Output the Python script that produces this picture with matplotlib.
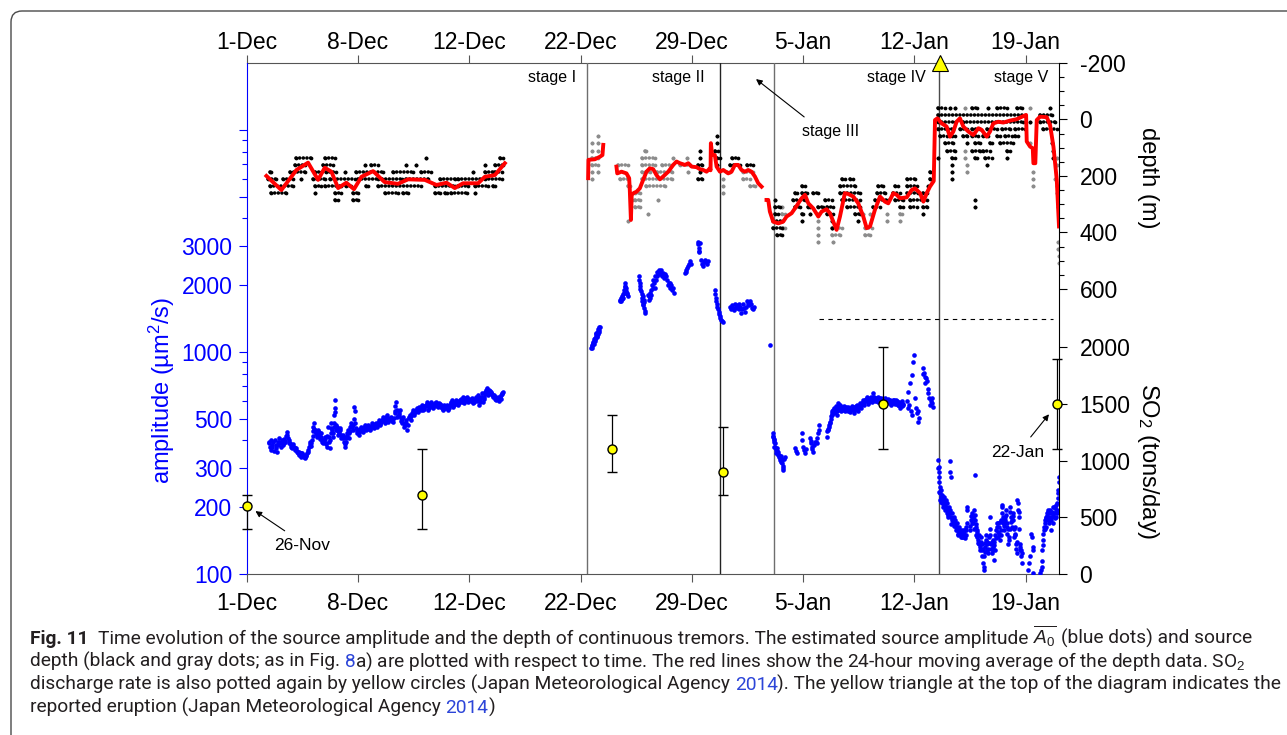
import matplotlib
matplotlib.use('Agg')
import matplotlib.pyplot as plt
from matplotlib import font_manager
from matplotlib.patches import FancyBboxPatch
from matplotlib.transforms import IdentityTransform
from matplotlib.ticker import NullFormatter

plt.rcParams['font.family'] = ['Liberation Sans', 'DejaVu Sans']
plt.rcParams['mathtext.fontset'] = 'custom'
plt.rcParams['mathtext.rm'] = 'Liberation Sans'
plt.rcParams['mathtext.it'] = 'Liberation Sans:italic'

W, H = 1287, 735

# time axis: plot days counted from the 1-Dec tick
tick_pos = [0, 7, 14, 21, 28, 35, 42, 49]
tick_lab = ['1-Dec', '8-Dec', '12-Dec', '22-Dec', '29-Dec', '5-Jan', '12-Jan', '19-Jan']
t_end = 51.1

stage_x = [21.40, 29.79, 33.17, 43.58]
stage_col = ['#6e6e6e', '#222222', '#6e6e6e', '#4a4a4a']
eruption_t = 43.61

# source amplitude (um^2/s), blue dots
amp1 = [(1.40, 395), (1.45, 375), (1.50, 362), (1.55, 401), (1.62, 383), (1.70, 360), (1.76, 401), (1.82, 383),
        (1.90, 356), (1.98, 395), (2.05, 408), (2.10, 388), (2.15, 375), (2.25, 401), (2.32, 388), (2.39, 395),
        (2.48, 420), (2.55, 438), (2.60, 410), (2.65, 388), (2.72, 388), (2.80, 375), (2.88, 380), (2.95, 372),
        (3.02, 362), (3.10, 368), (3.18, 356), (3.23, 350), (3.30, 356), (3.38, 344), (3.44, 338), (3.50, 350),
        (3.58, 338), (3.65, 332), (3.72, 344), (3.80, 350), (3.86, 362), (3.92, 375), (4.00, 395), (4.07, 388),
        (4.14, 420), (4.20, 460), (4.26, 477), (4.30, 445), (4.36, 430), (4.42, 416), (4.49, 445), (4.55, 420),
        (4.62, 405), (4.70, 430), (4.76, 401), (4.82, 388), (4.91, 416), (4.98, 390), (5.05, 375), (5.12, 461),
        (5.16, 416), (5.22, 368), (5.28, 430), (5.33, 477), (5.38, 445), (5.44, 416), (5.50, 480), (5.52, 520),
        (5.54, 560), (5.56, 608), (5.58, 539), (5.62, 445), (5.70, 461), (5.75, 423), (5.82, 440), (5.90, 445),
        (5.96, 408), (6.04, 425), (6.10, 416), (6.17, 375), (6.24, 395), (6.30, 430), (6.38, 445), (6.44, 408),
        (6.52, 460), (6.59, 477), (6.66, 445), (6.74, 500), (6.78, 567), (6.80, 540), (6.84, 477), (6.92, 430),
        (7.01, 445), (7.08, 423), (7.15, 450), (7.22, 461), (7.30, 438), (7.36, 455), (7.43, 469), (7.50, 445),
        (7.58, 460), (7.66, 469), (7.74, 445), (7.82, 460), (7.90, 477), (7.98, 453), (8.05, 470), (8.12, 480),
        (8.20, 461), (8.30, 494), (8.37, 470), (8.45, 485), (8.55, 511), (8.62, 490), (8.68, 477), (8.75, 505),
        (8.82, 520), (8.89, 486), (8.96, 500), (9.05, 511), (9.12, 490), (9.21, 486), (9.30, 530), (9.36, 570),
        (9.40, 597), (9.44, 548), (9.48, 511), (9.55, 530), (9.63, 548), (9.68, 502), (9.75, 480), (9.84, 511),
        (9.90, 461), (9.98, 475), (10.05, 494), (10.10, 445), (10.18, 505), (10.26, 520), (10.32, 494), (10.40, 530),
        (10.47, 548), (10.55, 520), (10.62, 545), (10.70, 560), (10.78, 539), (10.86, 567), (10.95, 550), (11.02, 577),
        (11.10, 548), (11.18, 560), (11.26, 580), (11.34, 597), (11.41, 548), (11.50, 570), (11.58, 597), (11.66, 575),
        (11.73, 558), (11.80, 585), (11.88, 597), (11.96, 570), (12.04, 567), (12.12, 590), (12.20, 575), (12.28, 560),
        (12.36, 548), (12.44, 577), (12.52, 560), (12.60, 577), (12.67, 548), (12.75, 570), (12.84, 590), (12.92, 608),
        (12.99, 567), (13.06, 590), (13.14, 608), (13.22, 585), (13.30, 577), (13.38, 600), (13.46, 615), (13.54, 595),
        (13.61, 629), (13.68, 587), (13.76, 610), (13.84, 629), (13.93, 597), (14.00, 612), (14.08, 600), (14.16, 618),
        (14.24, 587), (14.32, 605), (14.40, 625), (14.48, 600), (14.56, 640), (14.62, 577), (14.70, 610), (14.78, 651),
        (14.87, 597), (14.94, 630), (15.02, 660), (15.10, 686), (15.19, 640), (15.26, 674), (15.34, 660), (15.42, 650),
        (15.50, 629), (15.58, 640), (15.64, 615), (15.71, 608), (15.78, 625), (15.85, 600), (15.92, 629), (15.98, 612),
        (16.05, 650), (16.13, 662),
        (1.42, 388), (1.58, 372), (1.66, 392), (1.86, 370), (1.94, 380), (2.02, 395), (2.20, 392), (2.28, 380),
        (2.36, 405), (2.44, 398), (2.52, 425), (2.68, 400), (2.76, 382), (2.84, 368), (2.92, 385), (3.06, 370),
        (3.14, 360), (3.26, 345), (3.34, 350), (3.42, 352), (3.54, 340), (3.62, 345), (3.69, 335), (3.76, 340),
        (3.84, 355), (3.96, 385), (4.04, 378), (4.10, 400), (4.18, 440), (4.23, 450), (4.33, 430), (4.40, 425),
        (4.46, 430), (4.52, 435), (4.58, 412), (4.66, 415), (4.73, 395), (4.86, 400), (4.94, 405), (5.02, 385),
        (5.08, 420), (5.19, 395), (5.25, 400), (5.30, 455), (5.41, 430), (5.47, 460), (5.60, 470), (5.66, 450),
        (5.73, 440), (5.79, 430), (5.86, 455), (5.93, 425), (6.00, 418), (6.07, 410), (6.14, 395), (6.20, 385),
        (6.27, 410), (6.34, 420), (6.41, 430), (6.48, 440), (6.55, 465), (6.62, 460), (6.70, 470), (6.88, 455),
        (6.96, 440), (7.04, 435), (7.12, 440), (7.19, 448), (7.26, 450), (7.33, 445), (7.40, 458), (7.47, 455),
        (7.54, 450), (7.62, 462), (7.70, 455), (7.78, 452), (7.86, 468), (7.94, 465), (8.02, 460), (8.09, 472),
        (8.16, 468), (8.25, 478), (8.34, 482), (8.41, 475), (8.50, 495), (8.58, 500), (8.72, 492), (8.79, 512),
        (8.86, 500), (8.93, 495), (9.00, 505), (9.09, 500), (9.16, 495), (9.25, 505), (9.33, 545), (9.52, 515),
        (9.59, 520), (9.72, 490), (9.80, 500), (9.87, 480), (9.94, 468), (10.02, 480), (10.14, 470), (10.22, 512),
        (10.29, 508), (10.36, 515), (10.44, 535), (10.51, 532), (10.58, 535), (10.66, 550), (10.74, 550), (10.82, 555),
        (10.90, 560), (10.98, 565), (11.06, 562), (11.14, 555), (11.22, 570), (11.30, 575), (11.38, 572), (11.46, 560),
        (11.54, 585), (11.62, 585), (11.70, 565), (11.76, 575), (11.84, 590), (11.92, 582), (12.00, 578), (12.08, 580),
        (12.16, 582), (12.24, 568), (12.32, 555), (12.40, 562), (12.48, 568), (12.56, 570), (12.64, 562), (12.71, 560),
        (12.80, 580), (12.88, 598), (12.96, 585), (13.02, 578), (13.10, 598), (13.18, 596), (13.26, 590), (13.34, 588),
        (13.42, 606), (13.50, 605), (13.58, 610), (13.65, 608), (13.72, 600), (13.80, 618), (13.88, 612), (13.96, 610),
        (14.04, 605), (14.12, 610), (14.20, 602), (14.28, 595), (14.36, 615), (14.44, 612), (14.52, 620), (14.59, 610),
        (14.66, 595), (14.74, 630), (14.82, 625), (14.90, 615), (14.98, 645), (15.06, 672), (15.14, 662), (15.22, 655),
        (15.30, 668), (15.38, 655), (15.46, 640), (15.54, 635), (15.61, 628), (15.68, 612), (15.75, 615), (15.82, 612),
        (15.88, 615), (15.95, 620), (16.02, 638), (16.09, 655)]

amp2 = [(21.68, 1040), (21.72, 1060), (21.76, 1085), (21.80, 1100), (21.84, 1120), (21.88, 1140), (21.92, 1160),
        (21.96, 1180), (22.00, 1200), (22.04, 1215), (22.08, 1240), (22.12, 1265), (22.16, 1250), (22.20, 1300),
        (22.06, 1180), (21.90, 1120), (21.70, 1070), (21.74, 1045), (21.78, 1110), (21.82, 1085), (21.86, 1150),
        (21.94, 1140), (21.98, 1215), (22.02, 1170), (22.10, 1200), (22.14, 1230), (22.18, 1290),
        (23.47, 1700), (23.52, 1750), (23.56, 1690), (23.60, 1780), (23.66, 1820), (23.70, 1760), (23.74, 1900),
        (23.78, 1960), (23.82, 2040), (23.86, 1880), (23.90, 1820), (23.94, 1850), (24.00, 1780),
        (23.50, 1720), (23.63, 1740), (23.76, 1850), (23.80, 1990), (23.84, 1950),
        (24.68, 2200), (24.70, 2120), (24.72, 2050), (24.74, 1980), (24.76, 1930), (24.80, 1880), (24.84, 1820),
        (24.88, 1760), (24.92, 1700), (24.96, 1640), (25.00, 1580), (25.04, 1530), (25.08, 1500), (25.02, 1680),
        (24.90, 1790), (24.86, 1700), (24.94, 1620), (24.98, 1720),
        (25.26, 1800), (25.30, 1720), (25.36, 1760), (25.40, 1850), (25.46, 1900), (25.50, 2000), (25.56, 2100),
        (25.60, 2050), (25.66, 1950), (25.44, 1800), (25.33, 1780), (25.53, 1950),
        (25.70, 2200), (25.76, 2100), (25.82, 2300), (25.88, 2250), (25.94, 2350), (26.00, 2250), (26.06, 2330),
        (26.12, 2200), (26.18, 2280), (26.24, 2150), (26.30, 2250), (26.36, 2200), (26.42, 2100), (26.48, 2000),
        (26.54, 2050), (26.60, 1950), (26.66, 2050), (26.72, 2000), (26.78, 1900), (26.84, 1950), (26.90, 1850),
        (25.79, 2200), (25.91, 2320), (26.03, 2300), (26.15, 2240), (26.27, 2200),
        (27.57, 2260), (27.62, 2300), (27.66, 2350), (27.70, 2400), (27.76, 2450), (27.82, 2500), (27.88, 2560),
        (27.94, 2480),
        (28.40, 3140), (28.42, 3050), (28.44, 2950), (28.46, 2850), (28.48, 2830), (28.52, 3100),
        (28.56, 2600), (28.62, 2500), (28.68, 2450), (28.74, 2550), (28.80, 2580), (28.86, 2600), (28.92, 2550),
        (28.98, 2500), (29.04, 2560),
        (29.45, 1900), (29.47, 1820), (29.50, 1760), (29.53, 1700), (29.56, 1640), (29.60, 1600), (29.64, 1560),
        (29.68, 1520), (29.72, 1480), (29.76, 1460), (29.80, 1430), (29.86, 1400), (29.92, 1380), (29.98, 1370),
        (30.40, 1600), (30.46, 1560), (30.52, 1620), (30.58, 1580), (30.64, 1540), (30.70, 1650), (30.76, 1600),
        (30.82, 1580), (30.88, 1620), (30.94, 1560), (31.00, 1640), (31.06, 1600), (31.12, 1500), (31.18, 1560),
        (31.24, 1640), (31.30, 1580), (31.36, 1520), (31.42, 1600), (31.48, 1700), (31.54, 1650), (31.60, 1620),
        (31.66, 1700), (31.72, 1640), (31.78, 1580), (31.84, 1560), (31.90, 1600)]

amp3 = [(32.92, 1075), (33.08, 430), (33.12, 416), (33.17, 401), (33.20, 375), (33.20, 395), (33.23, 388),
        (33.28, 362), (33.30, 350), (33.33, 368), (33.38, 350), (33.44, 356), (33.48, 338), (33.50, 345),
        (33.54, 338), (33.58, 326), (33.62, 340), (33.65, 326), (33.68, 315), (33.71, 305), (33.75, 294),
        (33.80, 330), (33.86, 338),
        (34.49, 368), (34.59, 352), (34.91, 430), (34.95, 400), (35.01, 375), (35.12, 350), (35.20, 365),
        (35.43, 408), (35.50, 390), (35.54, 375), (35.64, 356), (35.75, 395), (35.85, 388), (35.96, 430),
        (35.98, 445), (36.02, 470),
        (36.48, 416), (36.53, 440), (36.59, 445), (36.64, 470), (36.69, 486), (36.74, 500), (36.80, 529),
        (36.85, 540), (36.90, 548), (36.96, 530), (37.01, 539), (37.06, 560), (37.11, 550), (37.16, 520),
        (37.22, 587), (37.27, 560), (37.32, 567), (37.38, 545),
        (37.43, 560), (37.53, 548), (37.58, 570), (37.64, 545), (37.74, 558), (37.80, 540), (37.85, 565),
        (37.95, 539), (38.00, 555), (38.06, 570), (38.16, 548), (38.22, 530), (38.28, 560), (38.37, 558),
        (38.42, 575), (38.48, 545), (38.58, 577), (38.64, 560), (38.70, 590), (38.79, 608), (38.84, 580),
        (38.90, 600), (39.00, 629), (39.05, 600), (39.10, 585), (39.21, 608), (39.26, 625), (39.32, 595),
        (39.42, 651), (39.48, 610), (39.54, 620), (39.63, 600), (39.70, 630), (39.76, 610), (39.84, 600),
        (39.90, 620), (39.96, 595), (40.05, 610), (40.12, 590), (40.18, 620), (40.26, 600), (40.32, 615),
        (40.38, 590), (40.47, 605), (40.54, 580), (40.60, 600), (40.68, 590), (40.74, 610), (40.80, 585),
        (40.89, 600), (40.96, 575), (41.02, 595), (41.10, 560), (41.18, 590), (41.24, 600), (41.31, 575),
        (41.52, 600), (41.57, 560), (41.62, 663), (41.68, 580), (41.73, 723), (41.78, 540), (41.83, 788),
        (41.88, 520), (41.94, 904), (41.98, 970), (42.04, 620), (42.10, 560), (42.15, 529), (42.20, 545),
        (42.25, 486), (42.31, 502),
        (42.52, 844), (42.56, 800), (42.61, 802), (42.64, 770), (42.67, 723), (42.72, 760), (42.78, 740),
        (42.84, 680), (42.88, 651), (42.94, 620), (42.98, 577), (43.04, 600), (43.09, 587), (43.12, 620),
        (43.15, 567),
        (33.10, 420), (33.14, 405), (33.26, 372), (33.36, 360), (33.42, 345), (33.56, 332), (33.60, 320),
        (33.73, 300), (34.54, 360), (35.06, 362), (35.48, 398), (35.59, 365), (35.70, 380), (35.80, 392),
        (35.90, 410), (36.56, 450), (36.62, 460), (36.71, 478), (36.77, 515), (36.83, 520), (36.88, 535),
        (36.93, 560), (36.99, 545), (37.04, 548), (37.09, 570), (37.14, 540), (37.19, 565), (37.25, 575),
        (37.30, 550), (37.35, 575), (37.40, 555), (37.48, 565), (37.56, 555), (37.61, 558), (37.69, 565),
        (37.77, 550), (37.83, 552), (37.90, 560), (37.98, 548), (38.03, 562), (38.10, 558), (38.19, 565),
        (38.25, 548), (38.33, 570), (38.40, 562), (38.45, 560), (38.53, 568), (38.61, 590), (38.67, 575),
        (38.74, 598), (38.82, 595), (38.87, 610), (38.95, 612), (39.02, 612), (39.08, 620), (39.15, 598),
        (39.18, 615), (39.24, 610), (39.29, 608), (39.36, 618), (39.39, 630), (39.45, 628), (39.51, 600),
        (39.58, 612), (39.66, 618), (39.73, 598), (39.80, 622), (39.87, 608), (39.93, 605), (40.00, 602),
        (40.08, 600), (40.15, 605), (40.22, 610), (40.29, 595), (40.35, 605), (40.42, 598), (40.50, 595),
        (40.57, 590), (40.64, 608), (40.71, 598), (40.77, 595), (40.85, 608), (40.92, 590), (40.99, 580),
        (41.06, 578), (41.14, 580), (41.21, 570), (41.28, 585)]

amp4 = [(43.50, 300), (43.51, 326), (43.52, 304), (43.53, 289), (43.54, 274), (43.55, 261),
        (43.61, 247), (43.63, 231), (43.66, 223), (43.70, 239), (43.72, 215), (43.76, 208), (43.78, 223),
        (43.82, 201), (43.86, 215), (43.90, 208), (43.93, 194), (43.97, 215), (44.00, 201), (44.03, 188),
        (44.08, 208), (44.12, 194), (44.14, 181), (44.20, 201), (44.24, 322), (44.26, 289), (44.28, 274),
        (44.24, 188), (44.30, 181), (44.35, 175), (44.40, 188), (44.45, 169), (44.50, 181), (44.56, 175),
        (44.60, 163), (44.66, 163), (44.70, 158), (44.77, 152), (44.82, 163), (44.87, 152), (44.92, 147),
        (44.98, 158), (45.02, 147), (45.08, 147), (45.14, 152), (45.19, 158), (45.24, 163), (45.29, 169),
        (45.32, 201), (45.34, 194),
        (45.50, 158), (45.55, 175), (45.61, 188), (45.66, 181), (45.71, 169), (45.76, 194), (45.82, 280),
        (45.84, 175), (45.88, 163), (45.92, 158), (45.97, 147), (46.03, 142), (46.08, 137), (46.13, 133),
        (46.18, 147), (46.24, 128), (46.28, 137), (46.34, 112), (46.36, 104), (46.38, 108), (46.40, 120),
        (46.45, 133), (46.50, 142), (46.55, 128), (46.60, 137), (46.65, 124), (46.70, 147), (46.76, 181),
        (46.80, 137), (46.86, 124), (46.92, 133), (46.97, 142), (47.02, 116), (47.07, 128), (47.12, 158),
        (47.18, 163), (47.24, 147), (47.28, 169), (47.34, 152), (47.39, 142), (47.44, 158), (47.49, 205),
        (47.52, 188), (47.56, 169), (47.60, 175), (47.65, 158), (47.70, 181), (47.76, 194), (47.81, 163),
        (47.86, 152), (47.91, 137), (47.96, 147), (48.02, 201), (48.06, 181), (48.12, 163), (48.18, 188),
        (48.23, 175), (48.28, 147), (48.33, 163), (48.38, 137), (48.44, 124), (48.48, 215), (48.54, 208),
        (48.58, 181), (48.62, 137), (48.65, 128), (48.70, 120), (48.75, 124), (48.78, 112),
        (49.17, 104), (49.22, 112), (49.28, 120), (49.32, 152), (49.38, 147), (49.44, 128), (49.49, 101),
        (49.45, 133),
        (49.91, 101), (49.96, 104), (50.01, 108), (50.05, 128), (50.10, 142), (50.12, 152), (50.16, 163),
        (50.22, 175), (50.26, 181), (50.30, 163), (50.33, 188), (50.38, 175), (50.43, 194), (50.48, 169),
        (50.54, 188), (50.58, 158), (50.64, 181), (50.70, 201), (50.75, 169), (50.80, 188), (50.85, 201),
        (50.90, 181), (50.96, 194), (51.00, 208), (51.04, 231), (51.06, 239), (51.08, 261), (51.10, 274),
        (43.58, 235), (43.64, 215), (43.68, 210), (43.74, 228), (43.80, 212), (43.84, 205), (43.88, 222),
        (43.95, 200), (43.99, 208), (44.05, 198), (44.10, 185), (44.17, 190), (44.22, 195), (44.33, 168),
        (44.38, 178), (44.43, 175), (44.48, 165), (44.53, 170), (44.58, 168), (44.63, 158), (44.68, 170),
        (44.73, 150), (44.80, 155), (44.85, 158), (44.90, 155), (44.95, 150), (45.00, 152), (45.05, 155),
        (45.11, 158), (45.16, 145), (45.22, 150), (45.27, 158), (45.53, 165), (45.58, 182), (45.63, 170),
        (45.69, 178), (45.74, 160), (45.79, 185), (45.86, 168), (45.90, 150), (45.95, 155), (46.00, 138),
        (46.05, 150), (46.10, 128), (46.16, 138), (46.21, 140), (46.26, 120), (46.31, 130), (46.42, 138),
        (46.47, 125), (46.52, 150), (46.57, 140), (46.62, 130), (46.68, 138), (46.73, 160), (46.78, 150),
        (46.83, 130), (46.89, 140), (46.94, 128), (46.99, 135), (47.04, 140), (47.10, 150), (47.15, 145),
        (47.21, 170), (47.26, 155), (47.31, 162), (47.36, 172), (47.42, 150), (47.47, 175), (47.54, 200),
        (47.58, 180), (47.63, 165), (47.68, 170), (47.73, 175), (47.78, 185), (47.84, 170), (47.88, 160),
        (47.94, 142), (47.99, 160), (48.04, 190), (48.09, 172), (48.15, 175), (48.20, 182), (48.26, 160),
        (48.31, 152), (48.36, 150), (48.41, 130), (48.46, 140), (48.51, 195), (48.56, 190), (48.60, 160),
        (48.67, 132), (48.72, 128), (50.03, 115), (50.08, 135), (50.14, 158), (50.19, 170), (50.24, 160),
        (50.28, 178), (50.35, 182), (50.40, 190), (50.46, 180), (50.51, 175), (50.56, 195), (50.61, 175),
        (50.67, 190), (50.72, 185), (50.78, 200), (50.82, 178), (50.88, 195), (50.93, 205), (50.98, 188),
        (51.02, 220)]

# source depth (m): runs of hourly estimates at the same depth level (start, end, depth)
blk_runs_1 = [(3.13, 4.07, 135), (4.91, 5.54, 135), (11.31, 11.31, 135), (15.92, 16.13, 135),
              (3.02, 3.65, 160), (4.80, 5.43, 160), (7.43, 7.43, 160), (7.85, 8.27, 160), (10.05, 10.05, 160),
              (10.68, 10.68, 160), (14.98, 14.98, 160), (15.61, 16.13, 160),
              (1.45, 1.55, 185), (2.71, 3.65, 185), (4.28, 4.70, 185), (5.01, 5.64, 185), (6.17, 6.17, 185),
              (6.90, 8.58, 185), (9.21, 10.47, 185), (10.99, 11.62, 185), (14.25, 14.25, 185), (14.98, 15.50, 185),
              (15.61, 16.03, 185),
              (1.34, 1.87, 210), (2.29, 2.92, 210), (3.44, 3.44, 210), (4.18, 4.91, 210), (5.22, 6.80, 210),
              (7.01, 8.27, 210), (8.48, 9.74, 210), (10.05, 11.41, 210), (12.15, 13.09, 210), (13.30, 14.77, 210),
              (14.98, 16.03, 210),
              (1.45, 2.92, 235), (4.28, 4.70, 235), (4.91, 5.96, 235), (6.27, 6.59, 235), (7.53, 7.64, 235),
              (8.27, 10.99, 235), (11.83, 13.09, 235), (13.30, 13.93, 235), (14.35, 15.19, 235), (15.50, 15.61, 235),
              (1.55, 2.50, 260), (4.28, 4.28, 260), (5.54, 5.96, 260), (6.69, 7.01, 260), (8.69, 9.52, 260),
              (9.84, 10.15, 260), (11.83, 12.15, 260), (12.46, 12.57, 260), (12.88, 13.83, 260), (14.35, 14.35, 260),
              (5.54, 5.75, 285), (6.69, 7.01, 285)]

blk_runs_2 = [(28.51, 28.51, 110), (28.51, 28.51, 135), (28.41, 28.62, 160), (28.51, 28.51, 185), (28.41, 28.62, 210),
              (29.56, 29.56, 60), (29.56, 29.56, 85), (29.45, 29.66, 110), (29.56, 29.77, 135), (29.56, 29.56, 160),
              (30.50, 30.92, 135), (30.40, 31.03, 160), (31.45, 31.87, 160)]

gry_runs_2 = [(21.75, 21.75, 85), (21.75, 21.75, 110), (21.75, 22.11, 135), (21.75, 22.11, 160), (21.75, 21.75, 185),
              (21.75, 21.75, 210), (22.11, 22.11, 60), (22.11, 22.11, 85), (22.11, 22.11, 110), (22.11, 22.11, 185),
              (23.37, 24.00, 160), (23.47, 24.00, 210), (24.00, 24.10, 235), (25.15, 26.31, 235), (24.10, 24.10, 260),
              (24.42, 24.73, 260), (24.21, 24.21, 285), (24.42, 24.73, 285), (24.42, 24.73, 310), (25.26, 25.26, 335),
              (24.00, 24.00, 360), (25.05, 25.15, 110), (24.84, 25.68, 135), (26.83, 26.83, 135), (27.67, 27.67, 135),
              (24.84, 25.68, 160), (26.10, 26.73, 160), (27.25, 27.88, 160), (24.84, 25.36, 185), (25.78, 26.73, 185),
              (27.78, 27.78, 185), (24.84, 26.73, 210), (25.89, 25.89, 285),
              (29.98, 29.98, 210), (29.98, 29.98, 235), (29.98, 29.98, 260), (30.19, 30.40, 185), (31.24, 31.87, 185),
              (31.24, 31.66, 210), (31.66, 31.97, 235)]

blk_runs_3 = [(37.42, 37.63, 210), (37.95, 38.16, 210), (41.52, 42.04, 210),
              (34.91, 35.12, 235), (37.32, 38.26, 235), (39.73, 40.05, 235), (40.78, 40.99, 235), (41.52, 42.15, 235),
              (42.88, 42.88, 235),
              (34.49, 34.59, 260), (34.91, 35.22, 260), (35.64, 35.96, 260), (37.32, 38.58, 260), (39.63, 40.15, 260),
              (40.68, 41.10, 260), (41.52, 42.25, 260), (42.57, 42.78, 260),
              (33.23, 33.23, 285), (34.38, 35.12, 285), (36.38, 36.80, 285), (37.42, 38.58, 285), (39.52, 40.36, 285),
              (40.78, 41.31, 285), (41.73, 42.78, 285),
              (33.23, 33.54, 310), (34.49, 34.80, 310), (35.33, 35.43, 310), (35.96, 36.27, 310), (36.48, 36.90, 310),
              (37.74, 38.58, 310), (39.42, 39.84, 310), (41.10, 41.31, 310), (41.73, 42.15, 310), (42.57, 42.78, 310),
              (33.23, 33.44, 335), (34.91, 35.01, 335), (35.43, 35.43, 335), (36.48, 36.90, 335), (38.26, 38.58, 335),
              (42.57, 42.57, 335),
              (33.12, 33.65, 360), (34.91, 34.91, 360), (36.80, 36.80, 360), (38.47, 38.47, 360),
              (33.12, 33.65, 385), (36.80, 36.80, 385), (33.33, 33.65, 410),
              (42.98, 43.09, 185), (42.98, 43.09, 210)]

gry_runs_3 = [(33.65, 33.65, 310),
              (33.65, 33.86, 335), (35.96, 35.96, 335), (38.79, 38.79, 335), (39.21, 39.21, 335), (40.26, 40.26, 335),
              (41.10, 41.20, 335),
              (35.96, 35.96, 360), (40.26, 40.26, 360), (41.10, 41.10, 360),
              (33.75, 33.86, 385), (35.96, 35.96, 385), (36.80, 37.42, 385), (38.89, 39.31, 385),
              (35.96, 35.96, 410), (36.80, 37.32, 410), (38.89, 39.21, 410),
              (35.96, 35.96, 435), (36.90, 36.90, 435)]

blk_runs_4 = [(43.50, 43.92, -40), (44.24, 44.24, -40), (44.55, 44.55, -40), (45.60, 45.92, -40), (46.65, 46.65, -40),
              (47.18, 47.81, -40), (48.44, 48.75, -40), (50.53, 50.53, -40),
              (43.50, 48.96, -15), (49.90, 50.64, -15),
              (43.50, 44.55, 10), (45.08, 48.86, 10), (49.28, 49.28, 10), (49.90, 50.85, 10),
              (43.50, 44.03, 35), (44.14, 44.45, 35), (44.87, 45.29, 35), (45.60, 46.13, 35), (46.55, 47.18, 35),
              (47.49, 48.02, 35), (48.33, 48.96, 35), (50.11, 50.95, 35),
              (43.61, 44.03, 60), (44.35, 44.55, 60), (45.08, 45.29, 60), (45.60, 46.03, 60), (46.34, 46.65, 60),
              (47.18, 47.39, 60), (47.70, 48.12, 60), (48.33, 48.54, 60),
              (43.92, 44.45, 85), (45.29, 45.29, 85), (45.82, 46.13, 85), (46.76, 46.86, 85), (47.39, 48.23, 85),
              (50.64, 50.64, 85),
              (44.03, 44.55, 110), (45.60, 46.13, 110), (46.34, 46.76, 110), (47.81, 48.02, 110), (50.74, 50.74, 110),
              (43.50, 43.50, 135), (44.35, 44.55, 135), (45.81, 45.92, 135), (46.44, 46.86, 135), (47.81, 47.81, 135),
              (50.74, 50.74, 135),
              (44.35, 44.35, 160), (46.55, 46.55, 160), (44.35, 44.35, 185), (44.35, 44.35, 210),
              (45.81, 45.81, 285), (45.81, 45.81, 310)]

gry_runs_4 = [(45.18, 45.18, -40), (49.28, 49.28, -40), (49.28, 49.28, 85),
              (45.18, 45.18, 110), (45.18, 45.18, 135), (45.29, 45.29, 160), (45.29, 45.29, 185),
              (49.49, 49.49, 185), (49.49, 49.49, 210), (49.49, 49.49, 235),
              (51.00, 51.00, 135), (51.00, 51.00, 160), (50.85, 50.85, 210), (50.95, 51.00, 235), (51.00, 51.00, 260),
              (51.05, 51.05, 310), (51.05, 51.05, 435), (51.05, 51.05, 460), (51.07, 51.07, 485), (51.07, 51.07, 510)]

# 24-hour moving average of depth (red)
red1_t = [1.24, 2.18, 3.13, 3.86, 4.49, 4.91, 5.33, 5.75, 6.27, 6.75, 7.22, 7.95, 8.68, 9.52, 10.15, 11.20,
          11.94, 12.57, 13.09, 13.61, 14.56, 14.98, 15.61, 16.24]
red1_d = [200, 250, 179, 153, 214, 171, 185, 243, 224, 247, 203, 183, 222, 228, 212, 214,
          232, 224, 243, 226, 226, 203, 197, 155]
red2a_t = [21.48, 21.50, 21.90, 22.22, 22.38, 22.43]
red2a_d = [208, 143, 141, 132, 126, 90]
red2b_t = [23.26, 23.31, 23.58, 23.89, 24.06, 24.10, 24.17, 24.22, 24.36, 24.52, 24.73, 24.94, 25.15, 25.36,
           25.57, 25.78, 25.99, 26.20, 26.52, 26.83, 27.04, 27.25, 27.57, 27.78, 27.99, 28.30, 28.51, 28.72,
           28.93, 29.14, 29.18, 29.20, 29.28, 29.45, 29.56, 29.77, 29.98, 30.29, 30.50, 30.71, 30.92, 31.13,
           31.34, 31.55, 31.76, 31.97, 32.18, 32.39]
red2b_d = [167, 191, 185, 191, 208, 250, 356, 267, 260, 256, 244, 214, 185, 173,
           176, 197, 212, 202, 185, 161, 149, 155, 161, 155, 167, 169, 176, 179,
           185, 173, 180, 84, 125, 126, 167, 185, 179, 191, 185, 161, 161, 179,
           185, 179, 185, 202, 226, 238]
red3_t = [32.70, 32.81, 32.91, 33.12, 33.44, 33.75, 33.96, 34.28, 34.49, 34.70, 34.91, 35.12, 35.33, 35.64,
          35.96, 36.17, 36.48, 36.69, 36.90, 37.11, 37.32, 37.63, 37.84, 38.16, 38.47, 38.79, 39.00, 39.21,
          39.52, 39.84, 40.15, 40.36, 40.68, 40.89, 41.10, 41.52, 41.83, 42.04, 42.36, 42.57, 42.78, 42.98,
          43.22, 43.30, 43.45, 43.72, 44.03, 44.24, 44.45, 44.66, 44.87, 45.08, 45.40, 45.71, 46.03, 46.24,
          46.55, 46.76, 46.97, 47.28, 47.60, 48.02, 48.44, 48.86, 49.03, 49.07, 49.28, 49.45, 49.49, 49.61,
          49.70, 49.91, 50.33, 50.54, 50.75, 50.96, 51.10]
red3_d = [285, 285, 326, 362, 368, 362, 344, 332, 315, 297, 279, 267, 297, 315,
          344, 326, 318, 332, 362, 391, 344, 261, 264, 273, 297, 344, 385, 379,
          320, 273, 291, 297, 261, 267, 279, 276, 250, 244, 261, 291, 261, 238,
          218, 2, -4, 14, 25, 61, 43, 8, -4, 25, 43, 55, 31, 37,
          61, 43, 14, 8, 11, 4, -1, -12, -16, 78, 96, 102, 155, 155,
          2, -10, -8, 20, 96, 214, 379]

# SO2 discharge rate (tons/day), yellow circles with error bars
so2_t = [0.0, 11.0, 22.95, 29.97, 40.0, 51.0]
so2_v = [600, 700, 1100, 900, 1500, 1500]
so2_lo = [400, 400, 900, 700, 1100, 1100]
so2_hi = [700, 1100, 1400, 1300, 2000, 1900]

fig = plt.figure(figsize=(W / 100, H / 100), dpi=100)

# rounded frame around figure and caption
frame = FancyBboxPatch((11, -40), 1400, H - 11 + 40, boxstyle='round,pad=0,rounding_size=11',
                       transform=IdentityTransform(), fill=False, ec='#4a4a4a', lw=1.0)
fig.add_artist(frame)

ax = fig.add_axes([246.7 / W, 1 - 574 / H, (1059 - 246.7) / W, 511 / H])
ax_d = ax.twinx()
ax_s = ax.twinx()

ax.set_xlim(0, t_end)
ax.set_yscale('log')
ax.set_ylim(100, 20040)
ax_d.set_ylim(1610, -200)
ax_s.set_ylim(0, 4508)

# stage boundaries
for x, c in zip(stage_x, stage_col):
    ax.axvline(x, color=c, lw=1.0, zorder=1)

# blue amplitude dots
for seg in (amp1, amp2, amp3, amp4):
    tt, vv = zip(*seg)
    ax.scatter(tt, vv, s=11, c='#0000ff', linewidths=0, zorder=3)


def draw_runs(axis, runs, color):
    for t0, t1, d in runs:
        if t1 > t0:
            axis.plot([t0, t1], [d, d], color=color, lw=2.6, ls=(0, (0.01, 1.0)),
                      dash_capstyle='round', zorder=2)
        axis.plot([t0, t1], [d, d], ls='none', marker='o', ms=2.7, mew=0, color=color, zorder=2)


for runs in (gry_runs_2, gry_runs_3, gry_runs_4):
    draw_runs(ax_d, runs, '#8c8c8c')
for runs in (blk_runs_1, blk_runs_2, blk_runs_3, blk_runs_4):
    draw_runs(ax_d, runs, 'black')

for tt, dd in ((red1_t, red1_d), (red2a_t, red2a_d), (red2b_t, red2b_d), (red3_t, red3_d)):
    ax_d.plot(tt, dd, color='#ff0000', lw=2.8, solid_joinstyle='round', zorder=4)

# boundary between depth and SO2 panels
ax_d.plot([36.0, 50.7], [706, 706], color='black', lw=0.8, ls=(0, (4, 4)))

# eruption marker
ax_d.plot(eruption_t, -200, marker='^', ms=11.5, mfc='#ffff00', mec='black', mew=0.8,
          clip_on=False, zorder=10)

yerr = [[v - lo for v, lo in zip(so2_v, so2_lo)], [hi - v for v, hi in zip(so2_v, so2_hi)]]
eb = ax_s.errorbar(so2_t, so2_v, yerr=yerr, fmt='o', ms=6.5, mfc='#ffff00', mec='black', mew=1.0,
                   ecolor='black', elinewidth=0.9, capsize=3.6, capthick=0.9, zorder=6)
for art in eb.lines[0:1] + tuple(eb.lines[1]) + tuple(eb.lines[2]):
    art.set_clip_on(False)

# x axis, bottom and top
ax.set_xticks(tick_pos, tick_lab)
ax.tick_params(axis='x', length=5.8, width=0.8, color='#555555', pad=7, labelsize=16.5)
sec = ax.secondary_xaxis('top')
sec.set_xticks(tick_pos, tick_lab)
sec.tick_params(axis='x', length=5.8, width=0.8, color='#555555', pad=1, labelsize=16.5)
sec.spines['top'].set_color('#555555')
sec.spines['top'].set_linewidth(0.8)

# left: amplitude (log)
ax.set_yticks([100, 200, 300, 500, 1000, 2000, 3000, 5000, 10000],
              ['100', '200', '300', '500', '1000', '2000', '3000', '', ''])
ax.set_yticks([400, 600, 700, 800, 900, 4000, 6000, 7000, 8000, 9000], minor=True)
ax.yaxis.set_minor_formatter(NullFormatter())
ax.tick_params(axis='y', which='major', length=5.8, width=0.8, color='#0000ff', labelcolor='#0000ff',
               pad=4.5, labelsize=16.5)
ax.tick_params(axis='y', which='minor', length=3.8, width=0.8, color='#0000ff')
ax.spines['left'].set_color('#0000ff')
ax.spines['left'].set_linewidth(0.8)
ax.spines['bottom'].set_color('#555555')
ax.spines['bottom'].set_linewidth(0.8)
ax.spines['top'].set_visible(False)
ax.spines['right'].set_visible(False)

# right: depth and SO2 scales
ax_d.set_yticks([-200, 0, 200, 400, 600], ['-200', '0', '200', '400', '600'])
ax_d.set_yticks([-150, -100, -50, 50, 100, 150, 250, 300, 350, 450, 500, 550], minor=True)
ax_d.tick_params(axis='y', which='major', length=5.8, width=0.8, pad=9, labelsize=16.5)
ax_d.tick_params(axis='y', which='minor', length=3.5, width=0.8)
for s in ('left', 'top', 'bottom'):
    ax_d.spines[s].set_visible(False)
ax_d.spines['right'].set_linewidth(0.8)

ax_s.set_yticks([0, 500, 1000, 1500, 2000], ['0', '500', '1000', '1500', '2000'])
ax_s.set_yticks([], minor=True)
ax_s.tick_params(axis='y', which='major', length=5.8, width=0.8, pad=9, labelsize=16.5)
for s in ax_s.spines.values():
    s.set_visible(False)

# stage labels and annotations
for x, lab in zip([20.75, 28.79, 42.71, 50.45], ['stage I', 'stage II', 'stage IV', 'stage V']):
    ax_d.text(x, -147, lab, ha='right', va='center', fontsize=11.5)
ax_d.text(34.96, 44, 'stage III', ha='left', va='center', fontsize=11.5)
arrow = dict(arrowstyle='-|>', color='black', lw=0.8, mutation_scale=9, shrinkA=0, shrinkB=0)
ax_d.annotate('', xy=(32.04, -143), xytext=(35.07, -9), arrowprops=arrow)
ax_s.text(1.72, 255, '26-Nov', ha='left', va='center', fontsize=12.5)
ax_s.annotate('', xy=(0.55, 555), xytext=(2.39, 381), arrowprops=arrow)
ax_s.text(50.16, 1070, '22-Jan', ha='right', va='center', fontsize=12.5)
ax_s.annotate('', xy=(50.47, 1409), xytext=(49.32, 1209), arrowprops=arrow)

# axis titles
fig.text(162 / W, 1 - 390 / H, 'amplitude (µm$^2$/s)', rotation=90, ha='center', va='center',
         fontsize=17, color='#0000ff')
fig.text(1148 / W, 1 - 178 / H, 'depth (m)', rotation=270, ha='center', va='center', fontsize=17)
fig.text(1148 / W, 1 - 461 / H, 'SO$_2$ (tons/day)', rotation=270, ha='center', va='center', fontsize=17)

# caption
names = {f.name for f in font_manager.fontManager.ttflist}
cap_font = 'Liberation Sans Narrow' if 'Liberation Sans Narrow' in names else 'Roboto'
ink = '#231f20'
link = '#2c45d8'
cap_lines = [
    [('Fig. 11', ink, 'bold'),
     ('  Time evolution of the source amplitude and the depth of continuous tremors. '
      'The estimated source amplitude ', ink, 'normal'),
     (r'$\overline{A_0}$', ink, 'normal'),
     (' (blue dots) and source', ink, 'normal')],
    [('depth (black and gray dots; as in Fig. ', ink, 'normal'), ('8', link, 'normal'),
     ('a) are plotted with respect to time. The red lines show the 24-hour moving average '
      'of the depth data. SO$_2$', ink, 'normal')],
    [('discharge rate is also potted again by yellow circles (Japan Meteorological Agency ', ink, 'normal'),
     ('2014', link, 'normal'),
     ('). The yellow triangle at the top of the diagram indicates the', ink, 'normal')],
    [('reported eruption (Japan Meteorological Agency ', ink, 'normal'), ('2014', link, 'normal'),
     (')', ink, 'normal')],
]
cap_y = [644, 667, 690, 713]
cap_right = [1262, 1240, 1276, 503]

renderer = fig.canvas.get_renderer()


def text_width(s, size, weight='normal'):
    t = fig.text(0, 0, s, fontsize=size, family=cap_font, fontweight=weight)
    w = t.get_window_extent(renderer).width
    t.remove()
    return w


def put_line(x, y, pieces, size, draw=True):
    sw = text_width('n n', size) - text_width('nn', size)
    for s, color, weight in pieces:
        core = s.strip(' ')
        lead = len(s) - len(s.lstrip(' '))
        trail = len(s) - len(s.rstrip(' '))
        x += lead * sw
        if draw:
            fig.text(x / W, 1 - y / H, core, fontsize=size, family=cap_font, fontweight=weight,
                     color=color, va='baseline', ha='left')
        x += text_width(core, size, weight) + trail * sw
    return x


base = 12.0
cap_size = min(base * (r - 30) / (put_line(30, 0, p, base, draw=False) - 30)
               for p, r in zip(cap_lines, cap_right))
for pieces, y in zip(cap_lines, cap_y):
    put_line(30, y, pieces, cap_size)

fig.savefig('out.png', dpi=100)
